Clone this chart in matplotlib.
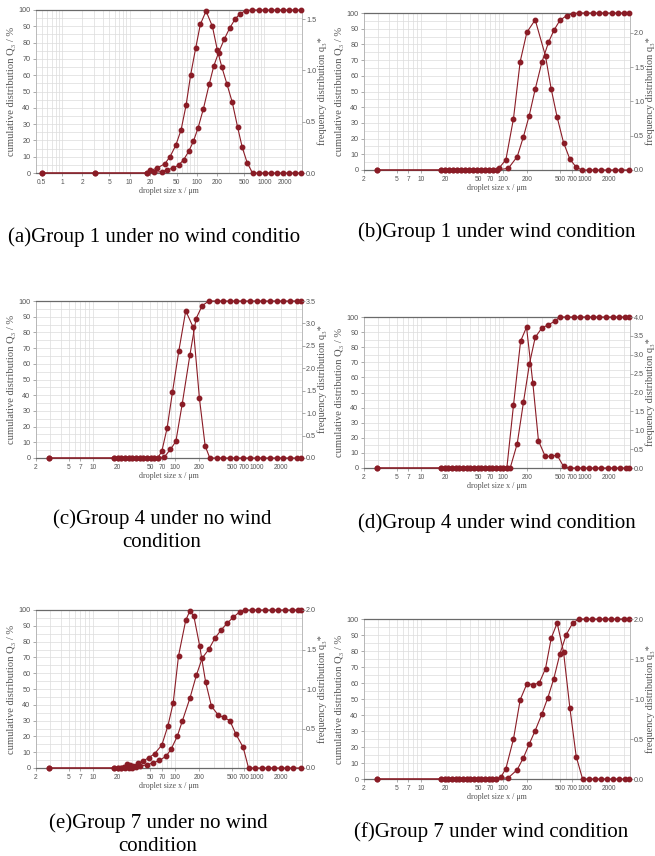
import matplotlib
matplotlib.use('Agg')
import matplotlib.pyplot as plt
from matplotlib.ticker import FixedLocator, NullFormatter, MultipleLocator, LogLocator

RED = '#8a1c26'
TICK_FONT = ['Liberation Sans Narrow', 'Liberation Sans', 'DejaVu Sans']
LABEL_FONT = ['Liberation Serif', 'DejaVu Serif']

# ---------------- data ----------------
# x = droplet size (um), Q = cumulative (%), q = frequency q3*

# (a) Group 1, no wind
A_FX = [0.5, 3.1, 18, 20.2, 25.3, 33.3, 39.9, 48.4, 58, 68.8, 80.6, 95.6, 112, 136, 169, 200,
        234, 277, 333, 399, 468, 554, 665, 834, 1023, 1255, 1539, 1888, 2316, 2840, 3480]
A_FQ = [0, 0, 0, 0.025, 0.046, 0.09, 0.16, 0.27, 0.42, 0.66, 0.96, 1.22, 1.45, 1.58, 1.43, 1.20,
        1.03, 0.87, 0.69, 0.45, 0.25, 0.10, 0, 0, 0, 0, 0, 0, 0, 0, 0]
A_CX = [0.5, 3.1, 18, 23.1, 30.4, 36.4, 44.7, 53.6, 63.5, 75.3, 88.3, 103.5, 124, 152, 178, 209,
        253, 304, 365, 432, 524, 657, 834, 1023, 1255, 1539, 1888, 2316, 2840, 3480]
A_CQ = [0, 0, 0, 0.4, 0.9, 2.0, 3.1, 4.9, 8.2, 13.3, 19.4, 27.6, 39.2, 54.7, 65.9, 73.9,
        82.0, 88.8, 94.3, 97.6, 99.6, 100, 100, 100, 100, 100, 100, 100, 100, 100]

# (b) Group 1, wind
B_FX = [2.9, 17.6, 19.7, 22.0, 24.7, 27.6, 30.9, 34.6, 38.7, 43.4, 48.5, 54.3, 60.8, 68.1, 76.2, 85.3,
        90.2, 109, 135, 163, 197, 249, 333, 391, 462, 553, 661, 791,
        927, 1120, 1330, 1600, 1930, 2330, 2810, 3500]
B_FQ = [0, 0, 0, 0, 0, 0, 0, 0, 0, 0, 0, 0, 0, 0, 0, 0,
        0.03, 0.15, 0.75, 1.58, 2.01, 2.19, 1.66, 1.18, 0.77, 0.40, 0.16, 0.04,
        0, 0, 0, 0, 0, 0, 0, 0]
B_CX = [2.9, 17.6, 19.7, 22.0, 24.7, 27.6, 30.9, 34.6, 38.7, 43.4, 48.5, 54.3, 60.8, 68.1, 76.2, 85.3,
        117, 150, 179, 210, 249, 300, 362, 421, 499, 602, 720,
        861, 1048, 1253, 1500, 1800, 2150, 2570, 3060, 3500]
B_CQ = [0, 0, 0, 0, 0, 0, 0, 0, 0, 0, 0, 0, 0, 0, 0, 0,
        1.1, 8.5, 21.3, 34.5, 51.5, 68.5, 81.3, 88.9, 95.3, 98.3, 99.6,
        100, 100, 100, 100, 100, 100, 100, 100, 100]

# (c) Group 4, no wind
C_FX = [2.9, 17.9, 20.0, 22.2, 24.7, 27.4, 30.3, 33.6, 37.3, 41.3, 45.8, 50.8, 56.3, 61.9,
        69.3, 80.5, 93.6, 112, 136, 168, 200, 235,
        268, 324, 391, 471, 568, 687, 828, 1000, 1207, 1457, 1758, 2122, 2560, 3090, 3500]
C_FQ = [0, 0, 0, 0, 0, 0, 0, 0, 0, 0, 0, 0, 0, 0,
        0.15, 0.67, 1.47, 2.39, 3.28, 2.91, 1.33, 0.27,
        0, 0, 0, 0, 0, 0, 0, 0, 0, 0, 0, 0, 0, 0, 0]
C_CX = [2.9, 17.9, 20.0, 22.2, 24.7, 27.4, 30.3, 33.6, 37.3, 41.3, 45.8, 50.8, 56.3, 61.9,
        74.7, 88.5, 103, 123, 153, 182, 216, 261,
        324, 391, 471, 568, 687, 828, 1000, 1207, 1457, 1758, 2122, 2560, 3090, 3500]
C_CQ = [0, 0, 0, 0, 0, 0, 0, 0, 0, 0, 0, 0, 0, 0,
        0.8, 5.5, 10.6, 34.3, 65.7, 88.8, 97.0, 100,
        100, 100, 100, 100, 100, 100, 100, 100, 100, 100, 100, 100, 100, 100]

# (d) Group 4, wind
D_FX = [2.9, 17.6, 19.5, 21.6, 23.9, 26.5, 29.4, 32.6, 36.2, 40.1, 44.6, 49.4, 54.8, 60.8, 67.4,
        74.7, 82.9, 91.9, 101, 112,
        135, 165, 195, 233, 273, 330, 387, 462, 553,
        667, 805, 954, 1140, 1351, 1600, 1930, 2290, 2730, 3240, 3500]
D_FQ = [0, 0, 0, 0, 0, 0, 0, 0, 0, 0, 0, 0, 0, 0, 0,
        0, 0, 0, 0, 0,
        1.66, 3.36, 3.73, 2.25, 0.72, 0.31, 0.31, 0.34, 0.04,
        0, 0, 0, 0, 0, 0, 0, 0, 0, 0, 0]
D_CX = [2.9, 17.6, 19.5, 21.6, 23.9, 26.5, 29.4, 32.6, 36.2, 40.1, 44.6, 49.4, 54.8, 60.8, 67.4,
        74.7, 82.9, 91.9, 101, 112,
        123, 150, 179, 212, 249, 300, 362, 429, 499,
        614, 740, 885, 1070, 1277, 1513, 1825, 2200, 2610, 3090, 3500]
D_CQ = [0, 0, 0, 0, 0, 0, 0, 0, 0, 0, 0, 0, 0, 0, 0,
        0, 0, 0, 0, 0,
        0, 16.1, 43.7, 69.1, 86.5, 92.7, 94.9, 97.1, 100,
        100, 100, 100, 100, 100, 100, 100, 100, 100, 100, 100]

# (e) Group 7, no wind
E_FX = [2.9, 17.9, 20.0, 22.2, 24.2, 26.1, 28.6, 30.9, 35.2, 41.0, 48.0, 56.4, 69.3, 82.1, 95.4,
        111, 136, 153, 171, 201, 238, 281, 340, 398, 471, 558, 687, 798,
        963, 1151, 1376, 1645, 1966, 2350, 2810, 3500]
E_FQ = [0, 0, 0, 0, 0.016, 0.05, 0.04, 0.03, 0.06, 0.09, 0.13, 0.18, 0.29, 0.53, 0.82,
        1.42, 1.87, 1.99, 1.92, 1.55, 1.09, 0.78, 0.67, 0.64, 0.60, 0.43, 0.26, 0,
        0, 0, 0, 0, 0, 0, 0, 0]
E_CX = [2.9, 17.9, 20.0, 22.2, 24.7, 27.4, 30.3, 33.6, 37.3, 45.8, 53.8, 64.9, 78.3, 90.2,
        107, 124, 153, 184, 216, 261, 309, 369, 437, 518, 625, 720,
        869, 1048, 1264, 1528, 1842, 2222, 2683, 3236, 3500]
E_CQ = [0, 0, 0, 0, 0, 0, 0, 0.5, 1.0, 2.1, 3.2, 4.8, 7.5, 12,
        20, 30, 44.2, 58.9, 69.5, 75.2, 82.1, 87.4, 91.6, 95.4, 98.9, 100,
        100, 100, 100, 100, 100, 100, 100, 100, 100]

# (f) Group 7, wind
F_FX = [2.9, 17.6, 19.5, 21.6, 23.9, 26.5, 29.4, 32.6, 36.2, 40.1, 44.6, 49.4, 54.8, 60.8, 67.4,
        74.7, 82.9,
        95.4, 109, 135, 163, 197, 235, 279, 333, 391, 462, 553, 661, 791,
        946, 1119, 1325, 1570, 1860, 2200, 2610, 3090, 3500]
F_FQ = [0, 0, 0, 0, 0, 0, 0, 0, 0, 0, 0, 0, 0, 0, 0,
        0, 0,
        0.03, 0.13, 0.50, 0.99, 1.19, 1.18, 1.20, 1.38, 1.76, 1.95, 1.59, 0.89, 0.28,
        0, 0, 0, 0, 0, 0, 0, 0, 0]
F_CX = [2.9, 17.6, 19.5, 21.6, 23.9, 26.5, 29.4, 32.6, 36.2, 40.1, 44.6, 49.4, 54.8, 60.8, 67.4,
        74.7, 82.9,
        117, 150, 179, 210, 249, 300, 356, 421, 499, 597, 720, 861,
        1038, 1230, 1484, 1758, 2100, 2510, 3030, 3500]
F_CQ = [0, 0, 0, 0, 0, 0, 0, 0, 0, 0, 0, 0, 0, 0, 0,
        0, 0,
        0.8, 5.8, 13.4, 21.7, 30.3, 40.5, 50.9, 62.8, 78.1, 90.2, 97.7, 100,
        100, 100, 100, 100, 100, 100, 100, 100]

# tick labels
XT_A = [0.5, 1, 2, 5, 10, 20, 50, 100, 200, 500, 1000, 2000]
XT_B = [2, 5, 7, 10, 20, 50, 70, 100, 200, 500, 700, 1000, 2000]
Q_MAX = [1.59, 2.29, 3.5, 4.0, 2.0, 2.0]
Q_TICKS = [[0, 0.5, 1.0, 1.5],
           [0, 0.5, 1.0, 1.5, 2.0],
           [0, 0.5, 1.0, 1.5, 2.0, 2.5, 3.0, 3.5],
           [0, 0.5, 1.0, 1.5, 2.0, 2.5, 3.0, 3.5, 4.0],
           [0, 0.5, 1.0, 1.5, 2.0],
           [0, 0.5, 1.0, 1.5, 2.0]]
CAPTIONS = ['(a)Group 1 under no wind conditio',
            '(b)Group 1 under wind condition',
            '(c)Group 4 under no wind\ncondition',
            '(d)Group 4 under wind condition',
            '(e)Group 7 under no wind\ncondition',
            '(f)Group 7 under wind condition']

W, H = 655, 856


def px_rect(l, t, r, b):
    return [l / W, 1 - b / H, (r - l) / W, (b - t) / H]


def draw_panel(fig, rect, fx, fq, cx, cq, qmax, qticks, xticks, xlim):
    ax = fig.add_axes(px_rect(*rect))
    ax.set_xscale('log')
    ax.set_xlim(*xlim)
    ax.set_ylim(0, 100)

    ax.xaxis.set_major_locator(FixedLocator(xticks))
    ax.set_xticklabels([str(t) for t in xticks])
    ax.xaxis.set_minor_locator(LogLocator(base=10, subs=range(1, 10), numticks=30))
    ax.xaxis.set_minor_formatter(NullFormatter())
    ax.yaxis.set_major_locator(MultipleLocator(10))
    ax.yaxis.set_minor_locator(MultipleLocator(5))
    ax.grid(which='both', color='#dcdcdc', lw=0.5)
    ax.set_axisbelow(True)
    ax.tick_params(which='major', length=2, width=0.5, color='#888',
                   labelcolor='#555', pad=2)
    ax.tick_params(axis='x', labelsize=4.8)
    ax.tick_params(axis='y', labelsize=5.2)
    ax.tick_params(which='minor', length=0)
    for lab in ax.get_xticklabels() + ax.get_yticklabels():
        lab.set_family(TICK_FONT)

    for side in ['left', 'right']:
        ax.spines[side].set_color('#b0b0b0')
        ax.spines[side].set_linewidth(0.6)
    for side in ['top', 'bottom']:
        ax.spines[side].set_color('#6a6a6a')
        ax.spines[side].set_linewidth(0.9)

    ax.set_ylabel('cumulative distribution Q₃ / %', fontsize=7.6, color='#555',
                  family=LABEL_FONT, labelpad=2)
    ax.set_xlabel('droplet size x / μm', fontsize=5.8, color='#555',
                  family=LABEL_FONT, labelpad=1)

    ax.plot(cx, cq, '-o', color=RED, lw=0.8, ms=3.2, mec=RED, mfc=RED,
            clip_on=False, zorder=3)

    ax2 = ax.twinx()
    ax2.set_ylim(0, qmax)
    ax2.set_yticks(qticks)
    ax2.set_yticklabels(['%.1f' % t for t in qticks])
    ax2.tick_params(labelsize=5.2, length=2, width=0.5, color='#888', labelcolor='#555', pad=1)
    for lab in ax2.get_yticklabels():
        lab.set_family(TICK_FONT)
    for s in ax2.spines.values():
        s.set_visible(False)
    ax2.set_ylabel('frequency distribution q₃*', fontsize=7.4, color='#555',
                   family=LABEL_FONT, labelpad=0.5)
    ax2.plot(fx, fq, '-o', color=RED, lw=0.8, ms=3.2, mec=RED, mfc=RED,
             clip_on=False, zorder=3)
    return ax


def main():
    fig = plt.figure(figsize=(W / 100, H / 100), dpi=100)
    fig.patch.set_facecolor('white')

    rects = [(36, 10, 302, 173), (364, 13, 630, 170),
             (36, 301, 302, 458), (364, 317, 630, 468),
             (36, 610, 302, 768), (364, 619, 630, 779)]
    data = [(A_FX, A_FQ, A_CX, A_CQ), (B_FX, B_FQ, B_CX, B_CQ),
            (C_FX, C_FQ, C_CX, C_CQ), (D_FX, D_FQ, D_CX, D_CQ),
            (E_FX, E_FQ, E_CX, E_CQ), (F_FX, F_FQ, F_CX, F_CQ)]

    for i, (rect, d) in enumerate(zip(rects, data)):
        if i == 0:
            xticks, xlim = XT_A, (0.41, 3600)
        else:
            xticks, xlim = XT_B, (2, 3600)
        draw_panel(fig, rect, *d, Q_MAX[i], Q_TICKS[i], xticks, xlim)

    # captions
    cap_pos = [(8, 237, 'left'), (358, 232, 'left'),
               (162, 531, 'center'), (358, 523, 'left'),
               (158, 835, 'center'), (354, 832, 'left')]
    for (x, y, ha), text in zip(cap_pos, CAPTIONS):
        fig.text(x / W, 1 - y / H, text, ha=ha, va='center', fontsize=15,
                 family=LABEL_FONT, linespacing=1.3)

    fig.savefig('out.png', dpi=100)


if __name__ == "__main__":
    main()
